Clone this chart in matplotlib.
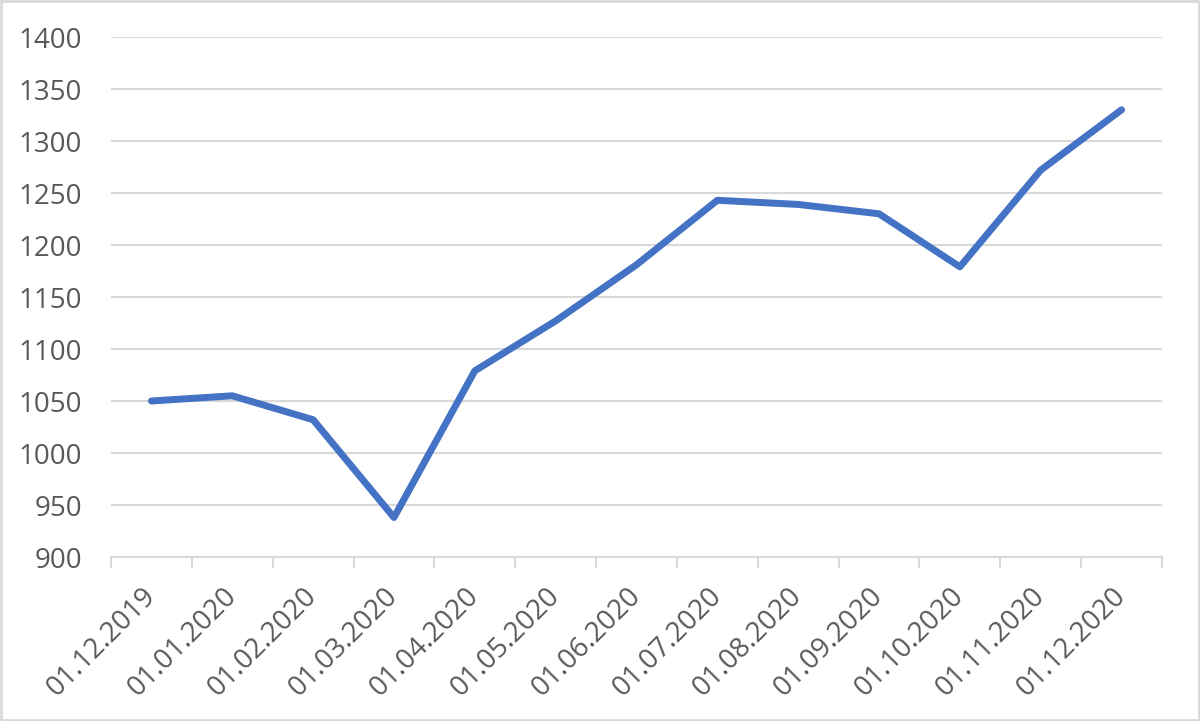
import matplotlib.pyplot as plt
import numpy as np
from matplotlib.ticker import FixedLocator

dates = ["01.12.2019", "01.01.2020", "01.02.2020", "01.03.2020", "01.04.2020",
         "01.05.2020", "01.06.2020", "01.07.2020", "01.08.2020", "01.09.2020",
         "01.10.2020", "01.11.2020", "01.12.2020"]
values = [1050, 1055, 1032, 938, 1079, 1127, 1181, 1243, 1239, 1230, 1179, 1272, 1330]
y_ticks = list(range(900, 1401, 50))

plt.rcParams['font.family'] = ['Open Sans', 'DejaVu Sans']

fig = plt.figure(figsize=(12, 7.21), dpi=100)
ax = fig.add_axes([111/1200, 1 - 557/721, (1162 - 111)/1200, (557 - 37)/721])

x = np.arange(len(dates))
ax.plot(x, values, color="#4472C4", lw=5, solid_joinstyle="round",
        solid_capstyle="round", zorder=3)

ax.set_xlim(-0.5, len(dates) - 0.5)
ax.set_ylim(900, 1400)
ax.set_yticks(y_ticks)
ax.yaxis.grid(True, color="#D9D9D9", lw=1.5)
ax.set_axisbelow(True)

for s in ["top", "right", "left"]:
    ax.spines[s].set_visible(False)
ax.spines["bottom"].set_color("#D9D9D9")
ax.spines["bottom"].set_linewidth(1.5)

ax.set_xticks(x)
ax.set_xticklabels(dates, rotation=45, ha="right", va="center", rotation_mode="anchor")
ax.xaxis.set_minor_locator(FixedLocator(np.arange(-0.5, len(dates), 1.0)))
ax.tick_params(axis="x", which="major", length=0, pad=25)
ax.tick_params(axis="x", which="minor", length=8, width=1.5, color="#D9D9D9")
ax.tick_params(axis="y", length=0, pad=21)
ax.tick_params(labelsize=20, labelcolor="#595959")

# thin light frame round the whole picture
fig.patches.append(plt.Rectangle((0.001, 0.001), 0.998, 0.997, transform=fig.transFigure,
                                 fill=False, edgecolor="#D9D9D9", lw=2))

plt.savefig("out.png", dpi=100)
